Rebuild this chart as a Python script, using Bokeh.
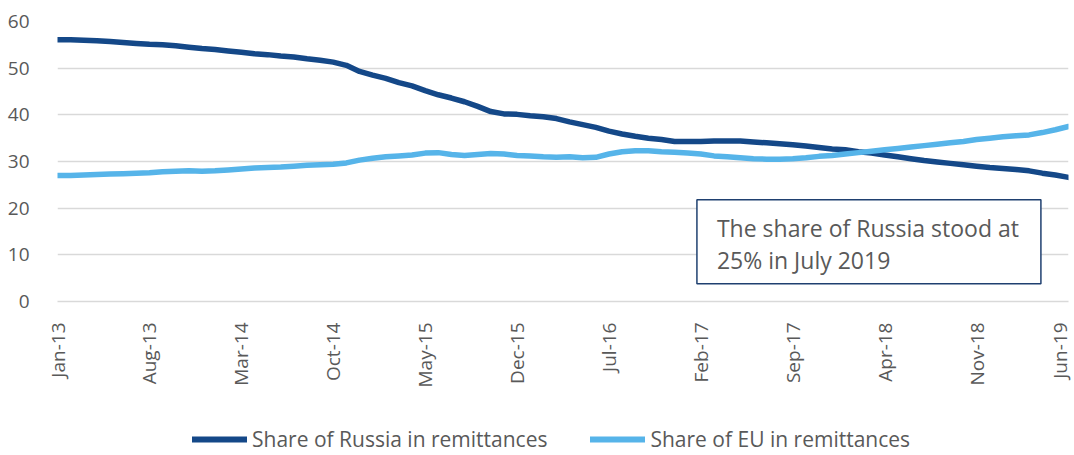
from bokeh.plotting import figure
from bokeh.layouts import column
from bokeh.models import Range1d, FixedTicker, Legend, LegendItem, Label
from bokeh.embed import file_html
from bokeh.resources import INLINE
import math

tick_labels = ["Jan-13", "Aug-13", "Mar-14", "Oct-14", "May-15", "Dec-15",
               "Jul-16", "Feb-17", "Sep-17", "Apr-18", "Nov-18", "Jun-19"]

russia = [56.1, 56.1, 56.0, 55.9, 55.7, 55.5, 55.3, 55.1, 55.0, 54.8,
          54.5, 54.2, 54.0, 53.7, 53.4, 53.1, 52.9, 52.6, 52.4, 52.0,
          51.7, 51.3, 50.6, 49.3, 48.5, 47.8, 46.9, 46.2, 45.2, 44.3,
          43.6, 42.8, 41.8, 40.7, 40.2, 40.1, 39.8, 39.6, 39.2, 38.5,
          37.9, 37.3, 36.5, 35.9, 35.4, 35.0, 34.7, 34.3, 34.3, 34.3,
          34.4, 34.4, 34.4, 34.2, 34.0, 33.8, 33.6, 33.3, 33.0, 32.7,
          32.5, 32.1, 31.8, 31.4, 31.0, 30.6, 30.2, 29.9, 29.6, 29.3,
          29.0, 28.7, 28.5, 28.3, 28.0, 27.5, 27.1, 26.6]

eu = [27.0, 27.0, 27.1, 27.2, 27.3, 27.4, 27.5, 27.6, 27.8, 27.9,
      28.0, 27.9, 28.0, 28.2, 28.4, 28.6, 28.7, 28.8, 29.0, 29.2,
      29.3, 29.4, 29.7, 30.3, 30.7, 31.0, 31.2, 31.4, 31.8, 31.9,
      31.5, 31.3, 31.5, 31.7, 31.6, 31.3, 31.2, 31.0, 30.9, 31.0,
      30.8, 30.9, 31.6, 32.1, 32.3, 32.3, 32.1, 32.0, 31.8, 31.6,
      31.2, 31.0, 30.8, 30.6, 30.5, 30.5, 30.6, 30.8, 31.1, 31.3,
      31.6, 31.9, 32.2, 32.5, 32.8, 33.1, 33.4, 33.7, 34.0, 34.3,
      34.7, 35.0, 35.3, 35.5, 35.7, 36.2, 36.8, 37.5]

series_names = ["Share of Russia in remittances", "Share of EU in remittances"]
note_text = "The share of Russia stood at\n25% in July 2019"

tick_step = 7
x = list(range(len(russia)))

DARK = "#144888"
LIGHT = "#56B4E9"
TEXT = "#595959"
GRID = "#D9D9D9"
FONT = "Open Sans"
LW = 5.5

p = figure(width=1072, height=392, output_backend="svg", toolbar_location=None,
           x_range=Range1d(0, len(russia) - 1), y_range=Range1d(0, 60),
           min_border_left=57, min_border_right=4, min_border_top=21,
           min_border_bottom=91)
p.outline_line_color = None

p.line(x, russia, line_color=DARK, line_width=LW, line_join="round", line_cap="round")
p.line(x, eu, line_color=LIGHT, line_width=LW, line_join="round", line_cap="round")

p.yaxis.ticker = FixedTicker(ticks=list(range(0, 61, 10)))
p.yaxis.axis_line_color = None
p.yaxis.major_tick_line_color = None
p.yaxis.minor_tick_line_color = None
p.yaxis.major_label_text_font = FONT
p.yaxis.major_label_text_font_size = "19px"
p.yaxis.major_label_text_color = TEXT
p.yaxis.major_label_standoff = 22

ticks = [i * tick_step for i in range(len(tick_labels))]
p.xaxis.ticker = FixedTicker(ticks=ticks)
p.xaxis.major_label_overrides = {t: lab for t, lab in zip(ticks, tick_labels)}
p.xaxis.major_label_orientation = math.pi / 2
p.xaxis.axis_line_color = GRID
p.xaxis.axis_line_width = 1.5
p.xaxis.major_tick_line_color = None
p.xaxis.minor_tick_line_color = None
p.xaxis.major_label_text_font = FONT
p.xaxis.major_label_text_font_size = "19px"
p.xaxis.major_label_text_color = TEXT
p.xaxis.major_label_standoff = 15

p.xgrid.grid_line_color = None
p.ygrid.grid_line_color = GRID
p.ygrid.grid_line_width = 1.5

lab = Label(x=48.7, y=21.8, anchor="top_left", text=note_text,
            text_font=FONT, text_font_size="23px", text_color=TEXT,
            text_line_height=1.0,
            padding=dict(left=20, right=22, top=12, bottom=8),
            background_fill_color="white",
            border_line_color="#1F4070", border_line_width=1.5)
p.add_layout(lab)

# legend strip below (lines drawn from the series, outside the strip's range)
pl = figure(width=1072, height=62, output_backend="svg", toolbar_location=None,
            x_range=Range1d(-1000, -999), y_range=Range1d(-1000, -999),
            min_border_left=0, min_border_right=0, min_border_top=0,
            min_border_bottom=0)
pl.axis.visible = False
pl.grid.grid_line_color = None
pl.outline_line_color = None
l1 = pl.line(x, russia, line_color=DARK, line_width=6, line_cap="round")
l2 = pl.line(x, eu, line_color=LIGHT, line_width=6, line_cap="round")
legend = Legend(items=[LegendItem(label=series_names[0], renderers=[l1]),
                       LegendItem(label=series_names[1], renderers=[l2])],
                orientation="horizontal", location=(135, 1),
                label_text_font=FONT, label_text_font_size="21px",
                label_text_color=TEXT, glyph_width=55, label_standoff=5,
                spacing=43, border_line_color=None, background_fill_alpha=0,
                padding=0, margin=0)
pl.add_layout(legend)

open("out.html", "w").write(file_html(column(p, pl), INLINE))
